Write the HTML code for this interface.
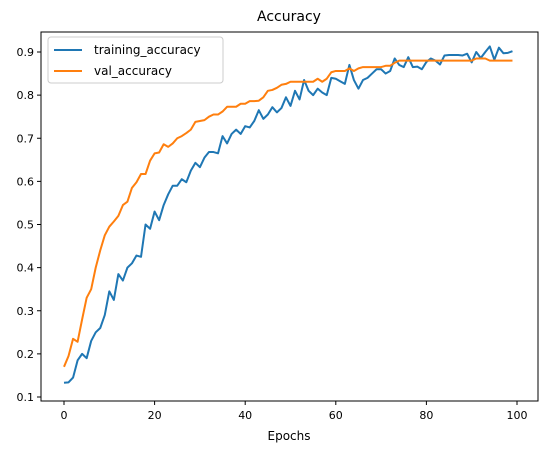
<!DOCTYPE html>
<html><head><meta charset="utf-8"><style>
body{margin:0;background:#fff;font-family:"Liberation Sans","DejaVu Sans",sans-serif}
svg text{font-family:"DejaVu Sans","Liberation Sans",sans-serif}
</style></head><body>
<svg id="chart" width="547" height="453" xmlns="http://www.w3.org/2000/svg">
<rect width="547" height="453" fill="#fff"/>
<text x="289" y="21" text-anchor="middle" font-size="14">Accuracy</text>
<g id="plot"></g>
<text x="289" y="440" text-anchor="middle" font-size="12">Epochs</text>
</svg>
<script>
const trainAcc=[.133,.134,.145,.185,.20,.19,.23,.25,.26,.29,.345,.325,.385,.37,.40,.41,.428,.425,.50,.49,.53,.51,.545,.57,.59,.59,.605,.598,.625,.643,.633,.655,.668,.668,.665,.705,.688,.71,.72,.71,.728,.725,.74,.765,.745,.755,.772,.76,.77,.795,.775,.81,.79,.835,.81,.80,.815,.806,.80,.84,.838,.832,.826,.87,.835,.815,.835,.84,.85,.86,.86,.85,.856,.885,.87,.865,.888,.865,.866,.86,.877,.885,.88,.871,.892,.893,.893,.893,.892,.896,.876,.90,.886,.90,.913,.882,.91,.897,.898,.902];
const valAcc=[.17,.195,.235,.228,.28,.33,.35,.40,.44,.475,.495,.507,.52,.545,.553,.585,.598,.617,.617,.648,.665,.667,.686,.68,.688,.70,.705,.712,.72,.738,.74,.742,.75,.755,.755,.762,.773,.773,.773,.78,.78,.786,.786,.787,.795,.81,.812,.817,.824,.826,.831,.831,.831,.831,.831,.831,.838,.831,.838,.853,.856,.856,.856,.862,.856,.862,.865,.865,.865,.865,.865,.868,.868,.875,.88,.88,.88,.88,.88,.88,.88,.88,.88,.88,.88,.88,.88,.88,.88,.88,.88,.885,.885,.885,.88,.88,.88,.88,.88,.88];
const xTicks=[0,20,40,60,80,100];
const yTicks=[0.1,0.2,0.3,0.4,0.5,0.6,0.7,0.8,0.9];
const L=41,R=538,T=32,B=401;
const xs=v=>64+(v-0)*(517-64)/100;
const ys=v=>397-(v-0.1)*(397-52)/0.8;
const g=document.getElementById('plot');
const NS='http://www.w3.org/2000/svg';
function mk(tag,attrs){const e=document.createElementNS(NS,tag);for(const k in attrs)e.setAttribute(k,attrs[k]);g.appendChild(e);return e;}
xTicks.forEach(t=>{
 const l=mk('line',{x1:xs(t),x2:xs(t),y1:B,y2:B+4,stroke:'#000'});
 
 
 const tx=mk('text',{x:xs(t),y:B+18,'text-anchor':'middle','font-size':'11'});
 tx.textContent=t;
 
 
});
yTicks.forEach(t=>{
 const l=mk('line',{x1:L-4,x2:L,y1:ys(t),y2:ys(t),stroke:'#000'});
 
 
 const tx=mk('text',{x:L-7,y:ys(t)+4,'text-anchor':'end','font-size':'11'});
 tx.textContent=t.toFixed(1);
 
 
});
function line(arr,color,name){
 const p=mk('polyline',{points:arr.map((v,i)=>xs(i)+','+ys(v)).join(' '),fill:'none',stroke:color,'stroke-width':'2','stroke-linejoin':'round'});
 
 
}
line(trainAcc,'#1f77b4','training-accuracy-line');
line(valAcc,'#ff7f0e','val-accuracy-line');
const frame=mk('rect',{x:L,y:T,width:R-L,height:B-T,fill:'none',stroke:'#000','stroke-width':'1'});


const lg=mk('rect',{x:48,y:37,width:175,height:46,rx:3,fill:'#fff','fill-opacity':'0.8',stroke:'#ccc'});


[['training_accuracy','#1f77b4',50],['val_accuracy','#ff7f0e',71]].forEach(([n,c,y])=>{
 const l=mk('line',{x1:54,x2:82,y1:y,y2:y,stroke:c,'stroke-width':'2'});
 
 
 const t=mk('text',{x:94,y:y+4,'font-size':'12'});
 t.textContent=n;
 
 
});
</script>
</body></html>
